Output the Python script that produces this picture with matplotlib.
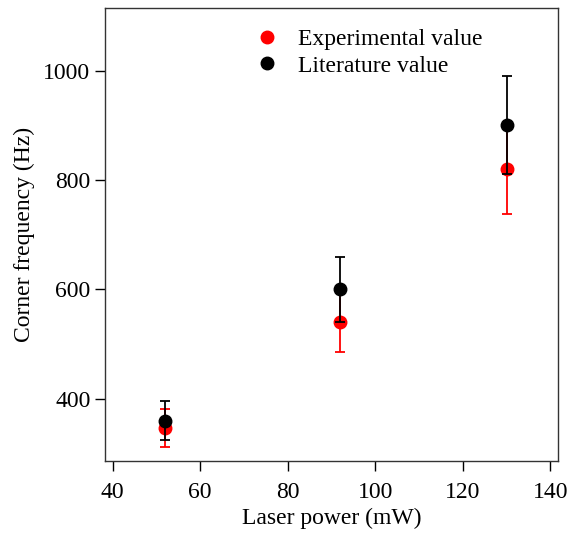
import matplotlib.pyplot as plt

plt.rcParams['font.family'] = ['Liberation Serif', 'DejaVu Serif']

# laser power (mW)
power = [52, 92, 130]

# corner frequency (Hz) and errors
exp_val = [347, 540, 820]
exp_err = [35, 54, 82]
lit_val = [360, 600, 900]
lit_err = [36, 60, 90]

fig = plt.figure(figsize=(5.72, 5.34), dpi=100)
ax = fig.add_axes([0.1836, 0.1373, 0.7924, 0.8472])

eb1 = ax.errorbar(power, exp_val, yerr=exp_err, fmt='o', color='red', ms=9,
                  capsize=3.6, elinewidth=1.3, capthick=1.3, zorder=2)
eb2 = ax.errorbar(power, lit_val, yerr=lit_err, fmt='o', color='black', ms=9,
                  capsize=3.6, elinewidth=1.3, capthick=1.3, zorder=3)

ax.set_xlim(38.25, 141.8)
ax.set_ylim(286.6, 1114)
ax.set_xticks([40, 60, 80, 100, 120, 140])
ax.set_yticks([400, 600, 800, 1000])
ax.tick_params(direction='out', length=7.5, width=1, labelsize=17, colors='black')
ax.tick_params(axis='x', pad=8)
ax.tick_params(axis='y', pad=3)
for s in ax.spines.values():
    s.set_color('#333333')
    s.set_linewidth(1)

ax.set_xlabel('Laser power (mW)', fontsize=17, labelpad=3)
ax.set_ylabel('Corner frequency (Hz)', fontsize=17, labelpad=6)

ax.legend([eb1[0], eb2[0]], ['Experimental value', 'Literature value'],
          loc='upper left', bbox_to_anchor=(0.28, 1.008), frameon=False,
          fontsize=17, handlelength=1.0, handletextpad=0.8, labelspacing=0.22,
          borderpad=0.5, numpoints=1)

fig.savefig('out.png', dpi=100)
